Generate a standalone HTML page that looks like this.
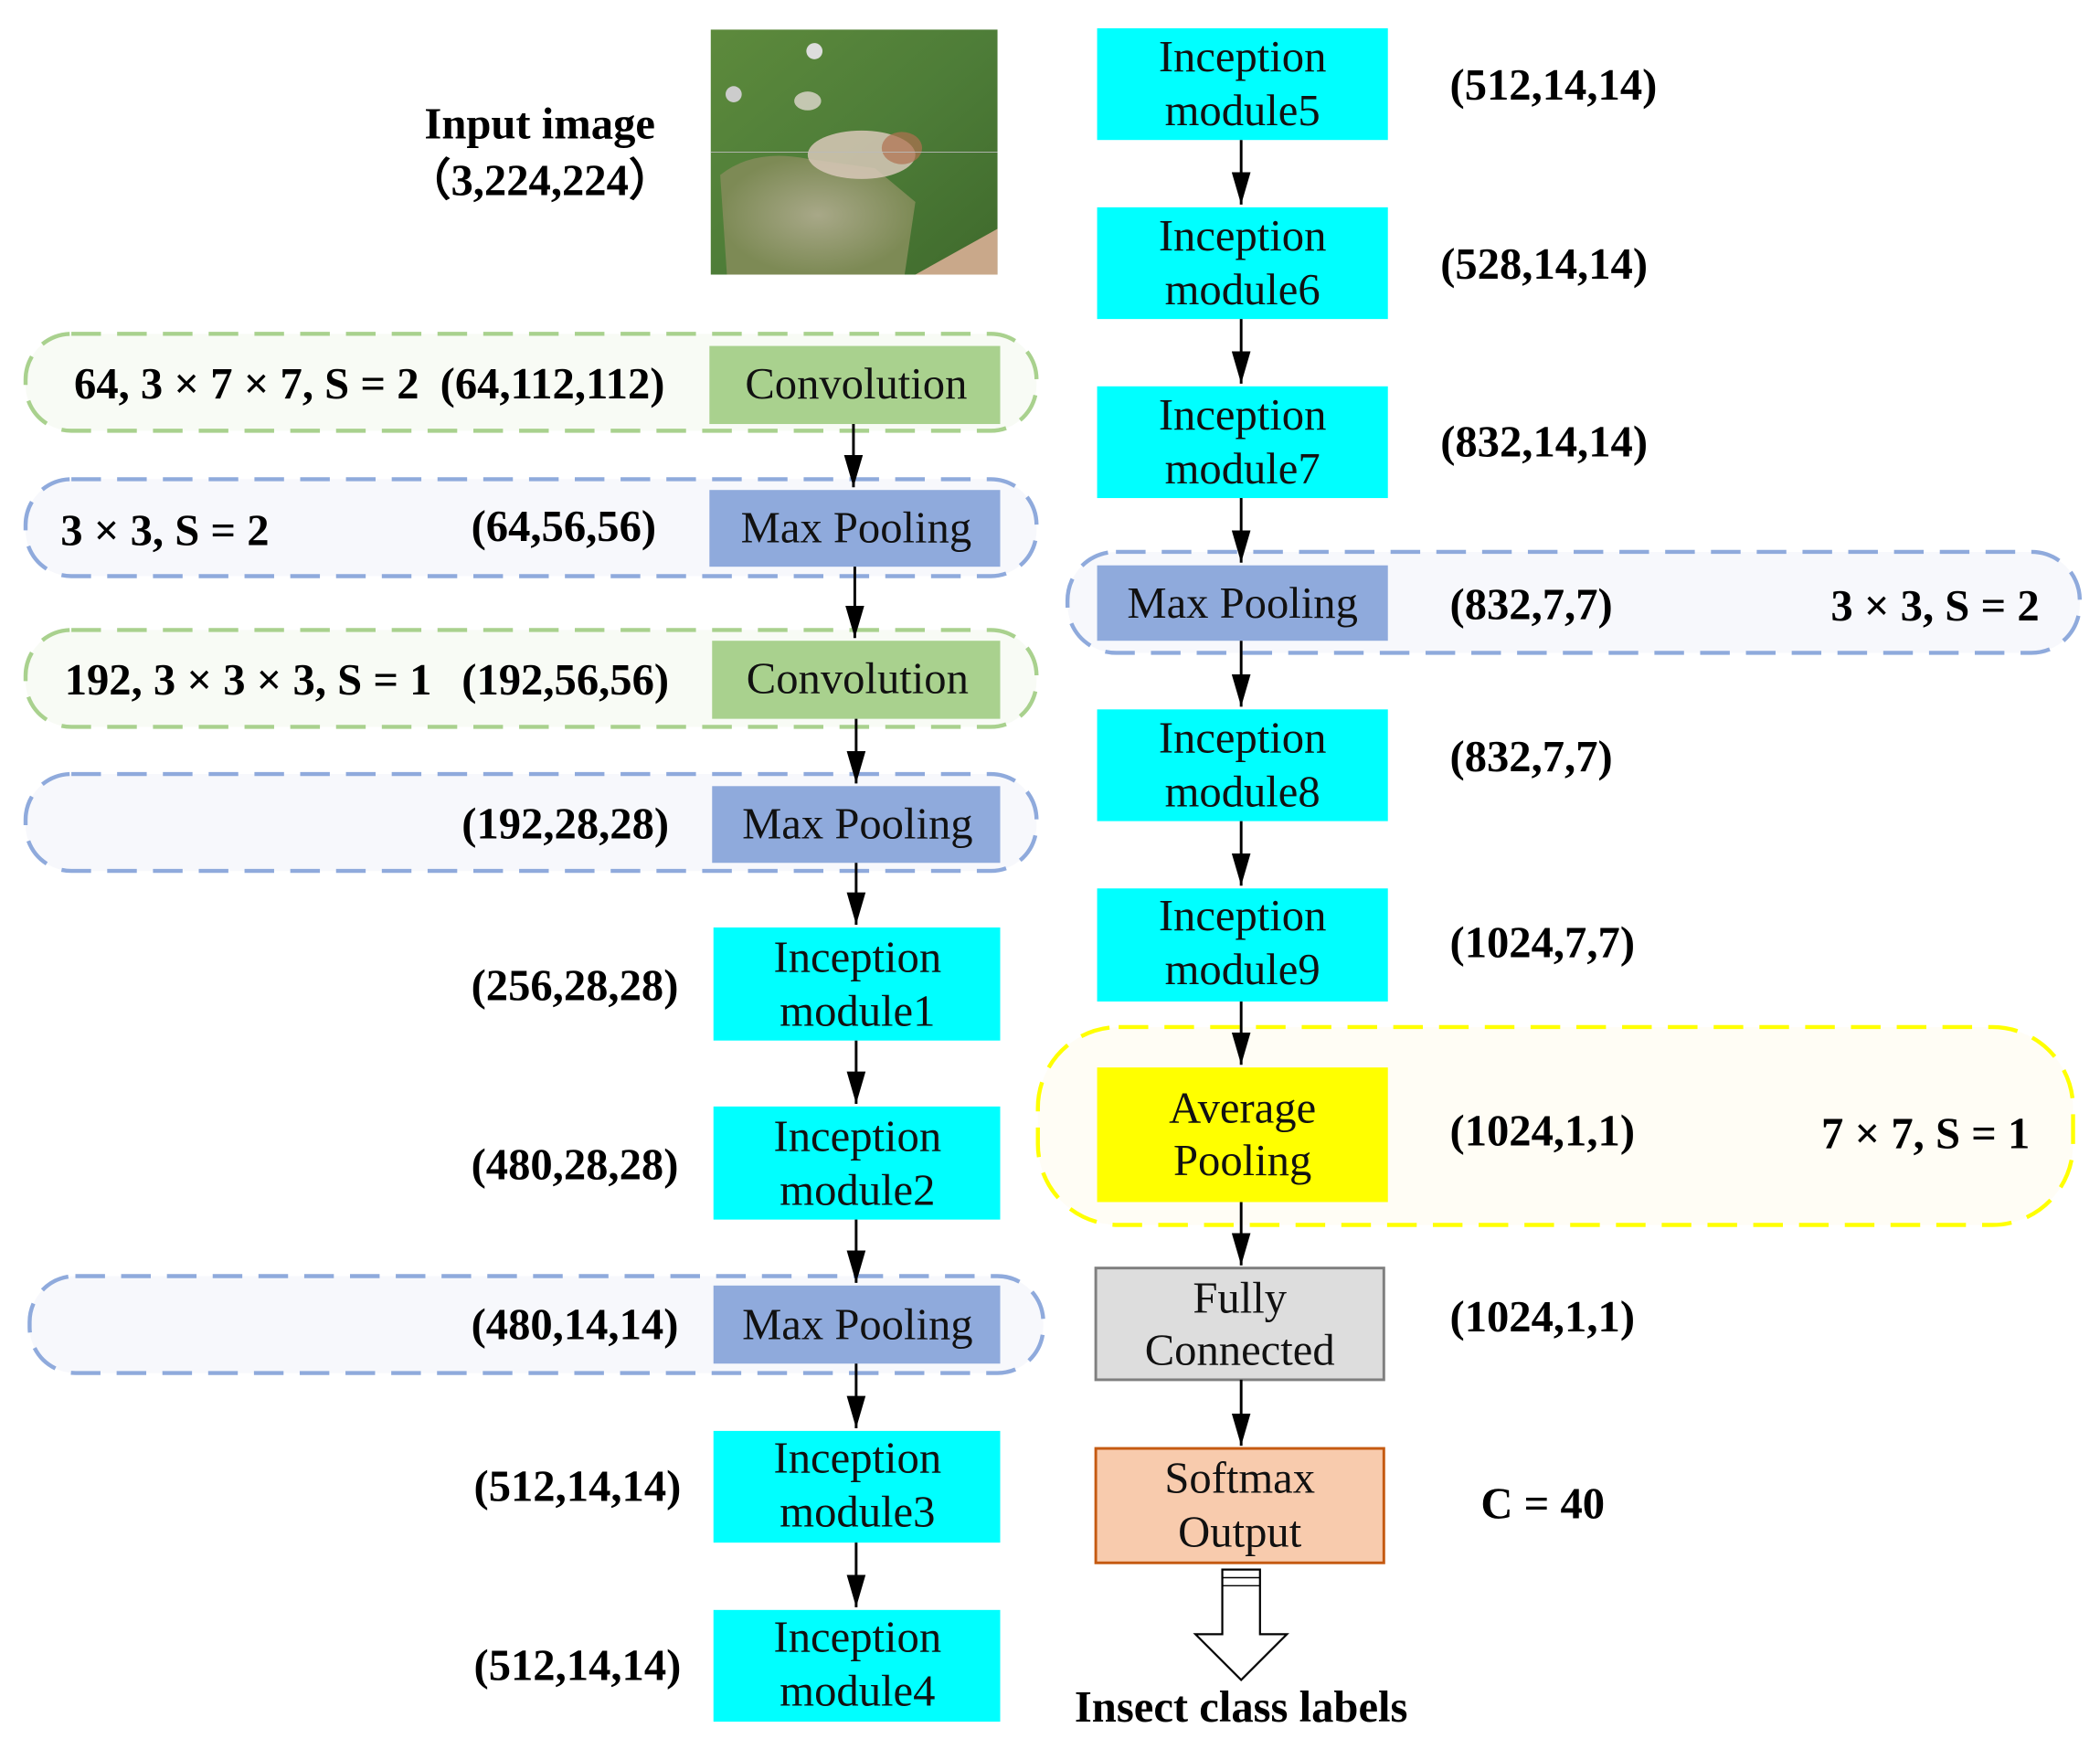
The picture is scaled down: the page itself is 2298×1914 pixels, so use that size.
<!DOCTYPE html>
<html><head><meta charset="utf-8"><style>html,body{margin:0;padding:0;background:#fff}svg{display:block}</style></head><body>
<svg width="2298" height="1914" viewBox="0 0 1560 1299.3" preserveAspectRatio="none" xmlns="http://www.w3.org/2000/svg" font-family="Liberation Serif, serif">
<defs>
<marker id="a" markerWidth="16" markerHeight="26" refX="7" refY="24" orient="0" markerUnits="userSpaceOnUse"><path d="M0,0 L14,0 L7,24 z" fill="#000"/></marker>
<linearGradient id="g1" x1="0" y1="0" x2="1" y2="1"><stop offset="0" stop-color="#5d8a3c"/><stop offset="0.5" stop-color="#4e7d38"/><stop offset="1" stop-color="#3f6a2c"/></linearGradient>
<radialGradient id="g2" cx="0.5" cy="0.5" r="0.5"><stop offset="0" stop-color="#a8a888"/><stop offset="1" stop-color="#7d8a55"/></radialGradient>
</defs>
<rect x="528" y="22" width="213" height="182" fill="url(#g1)"/>
<path d="M535,130 Q560,110 600,118 L650,125 L680,150 L672,204 L540,204 Z" fill="url(#g2)"/>
<path d="M680,204 L741,170 L741,204 Z" fill="#c9a88a"/>
<ellipse cx="640" cy="115" rx="40" ry="18" fill="#d8c8b8" opacity="0.85"/>
<ellipse cx="600" cy="75" rx="10" ry="7" fill="#e0d8d0" opacity="0.8"/>
<circle cx="605" cy="38" r="6" fill="#ddd"/><circle cx="545" cy="70" r="6" fill="#ccc"/>
<ellipse cx="670" cy="110" rx="15" ry="12" fill="#b07050" opacity="0.7"/>
<line x1="528" y1="113" x2="741" y2="113" stroke="#bbb" stroke-width="0.6"/>
<g font-weight="bold" font-size="33" text-anchor="middle">
<text x="401" y="103">Input image</text>
<text x="401" y="145">（3,224,224）</text>
</g>
<g stroke-width="3" stroke-dasharray="22,12" >
<rect x="19" y="248" width="751" height="72" rx="34" fill="#f8fbf5" stroke="#a9d18e"/>
<rect x="19" y="356" width="751" height="72" rx="34" fill="#f7f8fc" stroke="#8faadc"/>
<rect x="19" y="468" width="751" height="72" rx="34" fill="#f8fbf5" stroke="#a9d18e"/>
<rect x="19" y="575" width="751" height="72" rx="34" fill="#f7f8fc" stroke="#8faadc"/>
<rect x="22" y="948" width="753" height="72" rx="34" fill="#f7f8fc" stroke="#8faadc"/>
<rect x="793" y="410" width="752" height="75" rx="36" fill="#f7f8fc" stroke="#8faadc"/>
<rect x="771" y="763" width="769" height="147" rx="60" fill="#fffdf5" stroke="#ffff00"/>
</g>
<g>
<rect x="527" y="257" width="216" height="58" fill="#a9d18e"/>
<rect x="527" y="364" width="216" height="57" fill="#8faadc"/>
<rect x="529" y="476" width="214" height="58" fill="#a9d18e"/>
<rect x="529" y="584" width="214" height="57" fill="#8faadc"/>
<rect x="530" y="689" width="213" height="84" fill="#00ffff"/>
<rect x="530" y="822" width="213" height="84" fill="#00ffff"/>
<rect x="530" y="955" width="213" height="58" fill="#8faadc"/>
<rect x="530" y="1063" width="213" height="83" fill="#00ffff"/>
<rect x="530" y="1196" width="213" height="83" fill="#00ffff"/>
<rect x="815" y="21" width="216" height="83" fill="#00ffff"/>
<rect x="815" y="154" width="216" height="83" fill="#00ffff"/>
<rect x="815" y="287" width="216" height="83" fill="#00ffff"/>
<rect x="815" y="420" width="216" height="56" fill="#8faadc"/>
<rect x="815" y="527" width="216" height="83" fill="#00ffff"/>
<rect x="815" y="660" width="216" height="84" fill="#00ffff"/>
<rect x="815" y="793" width="216" height="100" fill="#ffff00"/>
<rect x="814" y="942" width="214" height="83" fill="#dddddd" stroke="#7f7f7f" stroke-width="2"/>
<rect x="814" y="1076" width="214" height="85" fill="#f8cbad" stroke="#c55a11" stroke-width="2"/>
</g>
<g font-size="33" text-anchor="middle" fill="#111">
<text x="636" y="296">Convolution</text>
<text x="636" y="403">Max Pooling</text>
<text x="637" y="515">Convolution</text>
<text x="637" y="623">Max Pooling</text>
<text x="637" y="722">Inception</text><text x="637" y="762">module1</text>
<text x="637" y="855">Inception</text><text x="637" y="895">module2</text>
<text x="637" y="995">Max Pooling</text>
<text x="637" y="1094">Inception</text><text x="637" y="1134">module3</text>
<text x="637" y="1227">Inception</text><text x="637" y="1267">module4</text>
<text x="923" y="53">Inception</text><text x="923" y="93">module5</text>
<text x="923" y="186">Inception</text><text x="923" y="226">module6</text>
<text x="923" y="319">Inception</text><text x="923" y="359">module7</text>
<text x="923" y="459">Max Pooling</text>
<text x="923" y="559">Inception</text><text x="923" y="599">module8</text>
<text x="923" y="691">Inception</text><text x="923" y="731">module9</text>
<text x="923" y="834">Average</text><text x="923" y="873">Pooling</text>
<text x="921" y="975">Fully</text><text x="921" y="1014">Connected</text>
<text x="921" y="1109">Softmax</text><text x="921" y="1149">Output</text>
</g>
<g font-size="33" font-weight="bold" fill="#000">
<text x="55" y="296">64, 3 × 7 × 7, S = 2</text>
<text x="327" y="296">(64,112,112)</text>
<text x="45" y="405">3 × 3, S = 2</text>
<text x="350" y="402">(64,56,56)</text>
<text x="48" y="516">192, 3 × 3 × 3, S = 1</text>
<text x="343" y="516">(192,56,56)</text>
<text x="343" y="623">(192,28,28)</text>
<text x="350" y="743">(256,28,28)</text>
<text x="350" y="876">(480,28,28)</text>
<text x="350" y="995">(480,14,14)</text>
<text x="352" y="1115">(512,14,14)</text>
<text x="352" y="1248">(512,14,14)</text>
<text x="1077" y="74">(512,14,14)</text>
<text x="1070" y="207">(528,14,14)</text>
<text x="1070" y="339">(832,14,14)</text>
<text x="1077" y="460">(832,7,7)</text>
<text x="1360" y="461">3 × 3, S = 2</text>
<text x="1077" y="573">(832,7,7)</text>
<text x="1077" y="711">(1024,7,7)</text>
<text x="1077" y="851">(1024,1,1)</text>
<text x="1353" y="853">7 × 7, S = 1</text>
<text x="1077" y="989">(1024,1,1)</text>
<text x="1100" y="1128">C = 40</text>
<text x="922" y="1279" text-anchor="middle">Insect class labels</text>
</g>
<g stroke="#000" stroke-width="2" marker-end="url(#a)">
<line x1="634" y1="315" x2="634" y2="362"/>
<line x1="635" y1="421" x2="635" y2="474"/>
<line x1="636" y1="534" x2="636" y2="582"/>
<line x1="636" y1="641" x2="636" y2="687"/>
<line x1="636" y1="773" x2="636" y2="820"/>
<line x1="636" y1="906" x2="636" y2="953"/>
<line x1="636" y1="1013" x2="636" y2="1061"/>
<line x1="636" y1="1146" x2="636" y2="1194"/>
<line x1="922" y1="104" x2="922" y2="152"/>
<line x1="922" y1="237" x2="922" y2="285"/>
<line x1="922" y1="370" x2="922" y2="418"/>
<line x1="922" y1="476" x2="922" y2="525"/>
<line x1="922" y1="610" x2="922" y2="658"/>
<line x1="922" y1="744" x2="922" y2="791"/>
<line x1="922" y1="893" x2="922" y2="940"/>
<line x1="922" y1="1025" x2="922" y2="1074"/>
</g>
<path d="M908,1166 L936,1166 L936,1214 L956,1214 L922,1248 L888,1214 L908,1214 Z" fill="#fff" stroke="#000" stroke-width="1.5"/>
<line x1="908" y1="1172" x2="936" y2="1172" stroke="#000" stroke-width="1"/>
<line x1="908" y1="1178" x2="936" y2="1178" stroke="#000" stroke-width="1"/>
</svg>
</body></html>
